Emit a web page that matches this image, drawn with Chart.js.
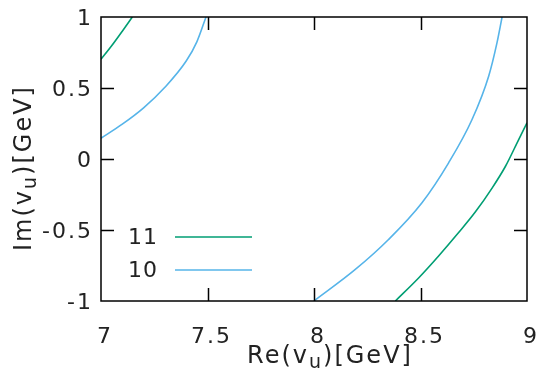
<!DOCTYPE html>
<html>
<head>
<meta charset="utf-8">
<script src="https://cdn.jsdelivr.net/npm/chart.js@4.4.1/dist/chart.umd.min.js"></script>
<style>
  html, body { margin: 0; padding: 0; background: #fff; }
  #wrap { width: 541px; height: 378px; position: relative; }
</style>
</head>
<body>
<div id="wrap"><canvas id="c" width="541" height="378"></canvas></div>
<script>
// ---- data ----
const seriesLabels = ['11', '10'];
const seriesColors = ['#009e73', '#56b4e9'];

// level 11 (green), upper-left branch
const g11InnerRe = [7.0, 7.05, 7.1, 7.147];
const g11InnerIm = [0.702, 0.797, 0.900, 1.0];
// level 11 (green), right branch
const g11OuterRe = [8.382, 8.491, 8.585, 8.679, 8.758, 8.836, 8.899, 8.961, 9.0];
const g11OuterIm = [-1.0, -0.838, -0.683, -0.518, -0.372, -0.205, -0.051, 0.137, 0.255];
// level 10 (blue), upper-left branch
const b10InnerRe = [7.0, 7.1, 7.2, 7.3, 7.4, 7.45, 7.493];
const b10InnerIm = [0.146, 0.245, 0.360, 0.505, 0.690, 0.825, 1.0];
// level 10 (blue), right branch
const b10OuterRe = [8.0, 8.194, 8.350, 8.507, 8.632, 8.742, 8.820, 8.859, 8.883];
const b10OuterIm = [-1.0, -0.778, -0.567, -0.308, -0.027, 0.278, 0.583, 0.818, 1.0];

const xTicks = [7, 7.5, 8, 8.5, 9];
const yTicks = [-1, -0.5, 0, 0.5, 1];
const xTitle = ['Re(v', 'u', ')[GeV]'];
const yTitle = ['Im(v', 'u', ')[GeV]'];

function pts(xs, ys) { return xs.map((x, i) => ({ x: x, y: ys[i] })); }

const FONT = 'DejaVu Sans';

function drawSubText(ctx, parts, x, y, size, align) {
  ctx.font = size + 'px "' + FONT + '"';
  const w0 = ctx.measureText(parts[0]).width;
  const w2 = ctx.measureText(parts[2]).width;
  ctx.font = Math.round(size * 0.78) + 'px "' + FONT + '"';
  const w1 = ctx.measureText(parts[1]).width;
  const total = w0 + w1 + w2;
  let sx = align === 'center' ? x - total / 2 : x;
  ctx.textAlign = 'left';
  ctx.textBaseline = 'alphabetic';
  ctx.font = size + 'px "' + FONT + '"';
  ctx.fillText(parts[0], sx, y);
  ctx.font = Math.round(size * 0.78) + 'px "' + FONT + '"';
  ctx.fillText(parts[1], sx + w0, y + size * 0.22);
  ctx.font = size + 'px "' + FONT + '"';
  ctx.fillText(parts[2], sx + w0 + w1, y);
}

const framePlugin = {
  id: 'frame',
  beforeDraw(chart) {
    chart.ctx.letterSpacing = '2px';
  },
  afterDraw(chart) {
    const ctx = chart.ctx;
    const a = chart.chartArea;
    const xs = chart.scales.x, ys = chart.scales.y;
    ctx.save();
    ctx.strokeStyle = '#000';
    ctx.lineWidth = 1.5;
    ctx.strokeRect(a.left, a.top, a.right - a.left, a.bottom - a.top);
    const tl = 13;
    ctx.beginPath();
    xTicks.forEach(v => {
      if (v === xs.min || v === xs.max) return;
      const px = Math.round(xs.getPixelForValue(v)) + 0.5;
      ctx.moveTo(px, a.bottom); ctx.lineTo(px, a.bottom - tl);
      ctx.moveTo(px, a.top); ctx.lineTo(px, a.top + tl);
    });
    yTicks.forEach(v => {
      if (v === ys.min || v === ys.max) return;
      const py = Math.round(ys.getPixelForValue(v)) + 0.5;
      ctx.moveTo(a.left, py); ctx.lineTo(a.left + tl, py);
      ctx.moveTo(a.right, py); ctx.lineTo(a.right - tl, py);
    });
    ctx.stroke();

    // axis titles
    ctx.fillStyle = '#222';
    ctx.letterSpacing = '2px';
    drawSubText(ctx, xTitle, 330, 363, 24, 'center');
    ctx.save();
    ctx.translate(31, 168);
    ctx.rotate(-Math.PI / 2);
    drawSubText(ctx, yTitle, 0, 0, 24, 'center');
    ctx.restore();

    // legend
    const rows = [237, 270];
    ctx.letterSpacing = '1px';
    ctx.font = '22px "' + FONT + '"';
    ctx.textAlign = 'right';
    ctx.textBaseline = 'middle';
    seriesLabels.forEach((lab, i) => {
      ctx.fillStyle = '#222';
      ctx.fillText(lab, 158, rows[i] + 1);
      ctx.strokeStyle = seriesColors[i];
      ctx.lineWidth = 1.6;
      ctx.beginPath();
      ctx.moveTo(175, rows[i]); ctx.lineTo(252, rows[i]);
      ctx.stroke();
    });
    ctx.restore();
  }
};

const lineDs = (label, data, color) => ({
  label: label, data: data, borderColor: color, backgroundColor: color,
  borderWidth: 1.6, showLine: true, pointRadius: 0,
  cubicInterpolationMode: 'monotone', fill: false
});

new Chart(document.getElementById('c'), {
  type: 'scatter',
  data: {
    datasets: [
      lineDs(seriesLabels[0], pts(g11InnerRe, g11InnerIm), seriesColors[0]),
      lineDs(seriesLabels[0], pts(g11OuterRe, g11OuterIm), seriesColors[0]),
      lineDs(seriesLabels[1], pts(b10InnerRe, b10InnerIm), seriesColors[1]),
      lineDs(seriesLabels[1], pts(b10OuterRe, b10OuterIm), seriesColors[1])
    ]
  },
  options: {
    responsive: false,
    animation: false,
    devicePixelRatio: 1,
    layout: { padding: { left: 0, right: 14, top: 17, bottom: 0 } },
    plugins: { legend: { display: false }, tooltip: { enabled: false } },
    scales: {
      x: {
        type: 'linear', min: 7, max: 9,
        afterBuildTicks: s => { s.ticks = xTicks.map(v => ({ value: v })); },
        afterFit: s => { s.height = 77; s.paddingLeft = 0; s.paddingRight = 0; },
        grid: { display: false, drawTicks: false },
        border: { display: false },
        ticks: { color: '#222', padding: 23, labelOffset: 4, maxRotation: 0,
                 callback: v => String(v),
                 font: { family: FONT, size: 22 } }
      },
      y: {
        type: 'linear', min: -1, max: 1,
        afterBuildTicks: s => { s.ticks = yTicks.map(v => ({ value: v })); },
        afterFit: s => { s.width = 101; s.paddingTop = 0; s.paddingBottom = 0; },
        grid: { display: false, drawTicks: false },
        border: { display: false },
        ticks: { color: '#222', padding: 8, labelOffset: 2,
                 callback: v => String(v),
                 font: { family: FONT, size: 22 } }
      }
    }
  },
  plugins: [framePlugin]
});
</script>
</body>
</html>
